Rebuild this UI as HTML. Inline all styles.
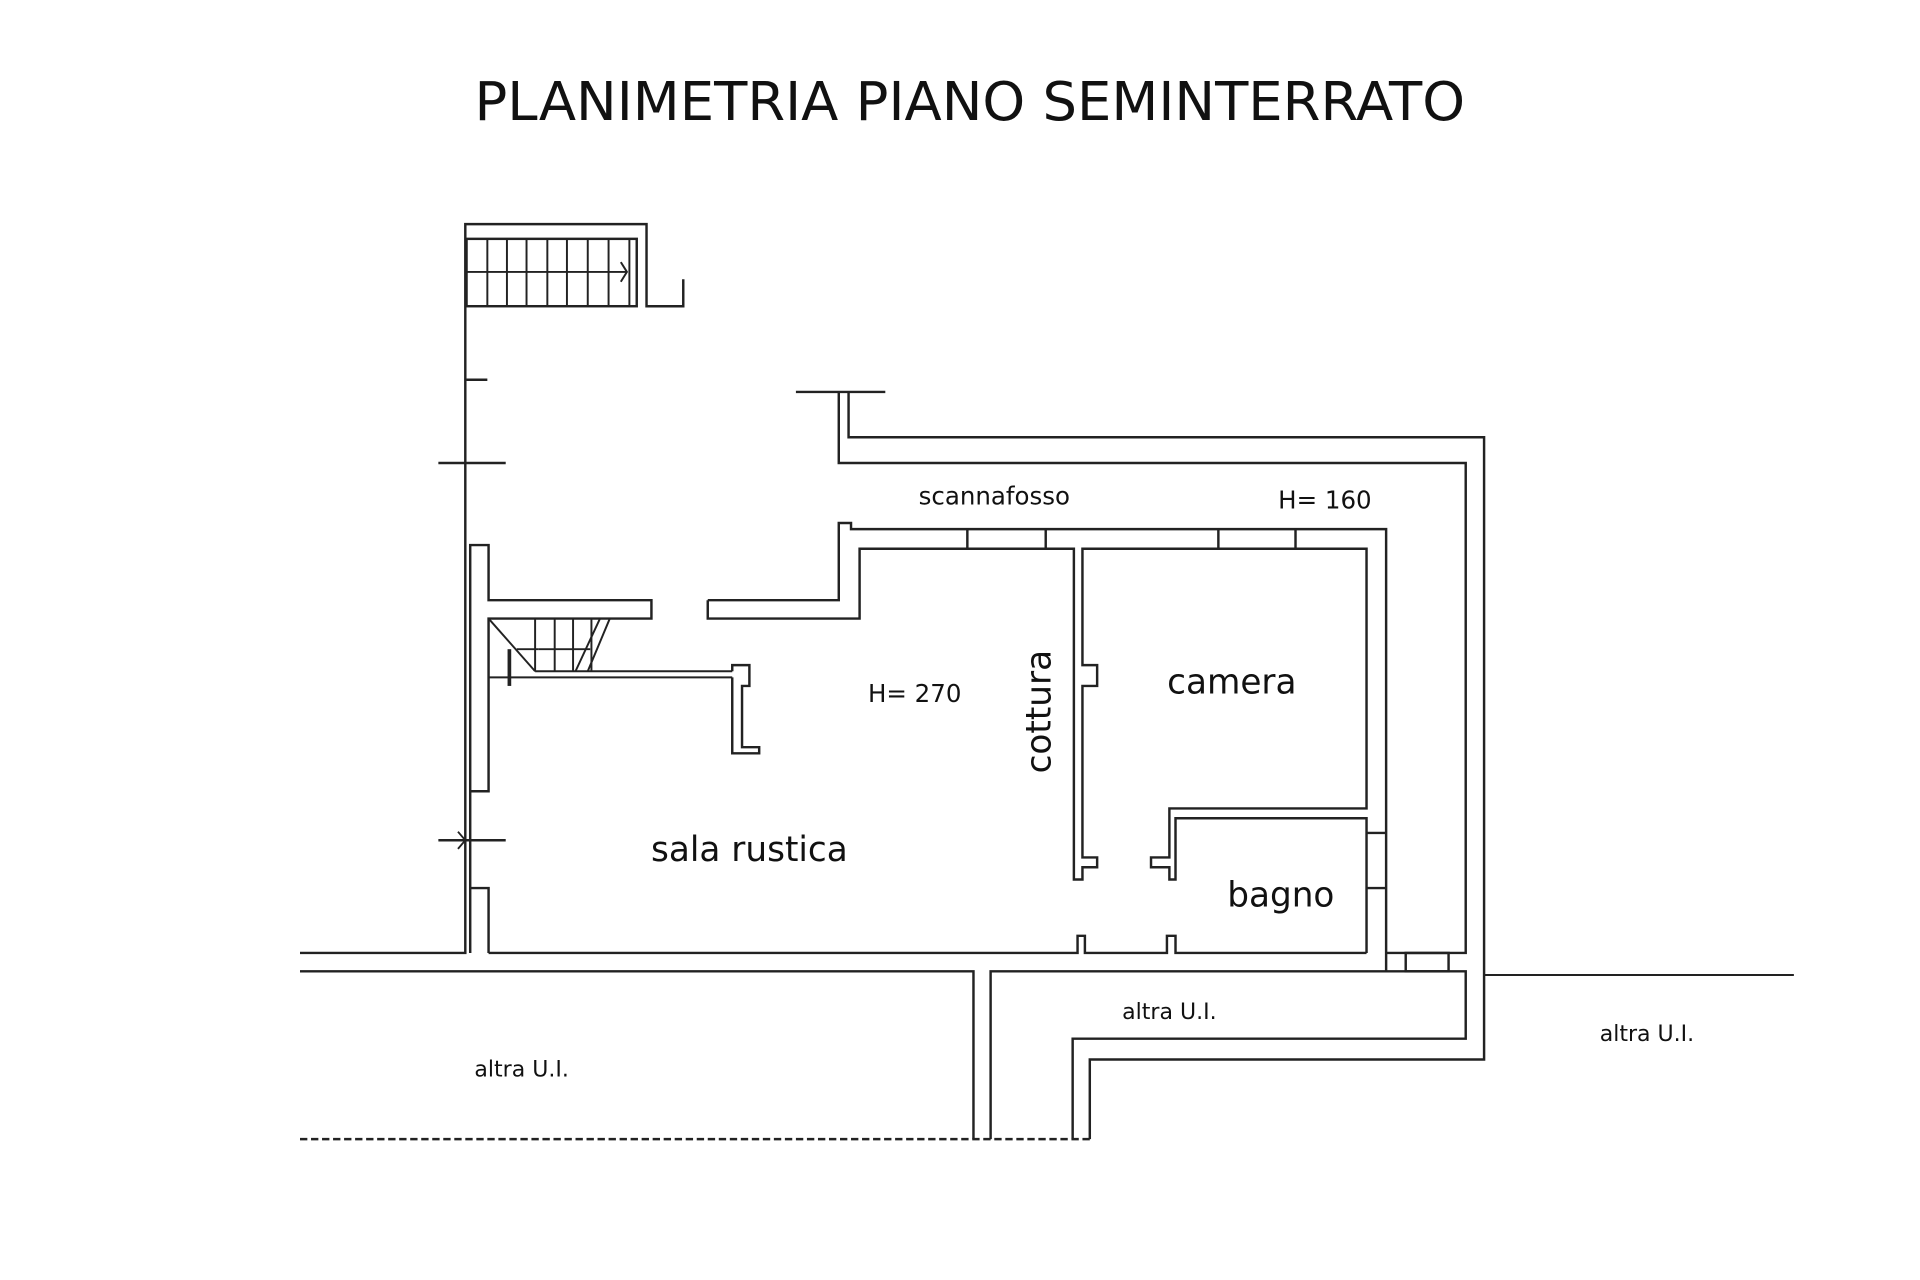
<!DOCTYPE html>
<html><head><meta charset="utf-8"><style>
html,body{margin:0;padding:0;background:#fff;}
svg{display:block}
text{font-family:"DejaVu Sans","Liberation Sans",sans-serif;fill:#111}
</style></head><body>
<svg width="1920" height="1280" viewBox="0 0 1568 1045" preserveAspectRatio="none" xmlns="http://www.w3.org/2000/svg">
<g fill="none" stroke="#222" stroke-width="2">
<polyline points="380,778 380,183 528,183 528,250 558,250 558,228"/>
<rect x="381" y="195" width="139" height="55"/>
<g stroke-width="1.6">
<line x1="398" y1="195" x2="398" y2="250"/><line x1="414" y1="195" x2="414" y2="250"/>
<line x1="430" y1="195" x2="430" y2="250"/><line x1="447" y1="195" x2="447" y2="250"/>
<line x1="463" y1="195" x2="463" y2="250"/><line x1="480" y1="195" x2="480" y2="250"/>
<line x1="497" y1="195" x2="497" y2="250"/><line x1="514" y1="195" x2="514" y2="250"/>
<line x1="381" y1="222" x2="512" y2="222"/>
<polyline points="507,214 512,222 507,230"/>
</g>
<line x1="381" y1="310" x2="398" y2="310"/>
<line x1="358" y1="378" x2="413" y2="378"/>
<line x1="358" y1="686" x2="413" y2="686"/>
<polyline points="374,679 380,686 374,693" stroke-width="1.5"/>
<polyline points="384,778 384,445 399,445 399,490 532,490 532,505 399,505 399,646 384,646"/>
<polyline points="384,725 399,725 399,778"/>
<g stroke-width="1.6">
<line x1="399" y1="553" x2="598" y2="553"/>
<line x1="437" y1="548" x2="598" y2="548"/>
<line x1="399" y1="505" x2="437" y2="548"/>
<line x1="422" y1="530" x2="440" y2="530"/>
<line x1="437" y1="505" x2="437" y2="548"/><line x1="453" y1="505" x2="453" y2="548"/>
<line x1="468" y1="505" x2="468" y2="548"/><line x1="483" y1="505" x2="483" y2="548"/>
<line x1="440" y1="530" x2="482" y2="530"/>
<line x1="498" y1="505" x2="480" y2="548"/><line x1="490" y1="505" x2="470" y2="548"/>
<line x1="416" y1="530" x2="416" y2="560" stroke-width="3"/>
</g>
<polyline points="598,553 598,615 620,615 620,610 606,610 606,560 612,560 612,543 598,543 598,548"/>
<polyline points="578,490 685,490 685,427 695,427 695,432 1132,432 1132,778"/>
<polyline points="578,490 578,505 702,505 702,448 877,448 877,718 884,718 884,708 896,708 896,700 884,700 884,560 896,560 896,543 884,543 884,448 1116,448 1116,660 955,660 955,700 940,700 940,708 955,708 955,718 960,718 960,668 1116,668 1116,778"/>
<line x1="790" y1="432" x2="790" y2="448"/><line x1="854" y1="432" x2="854" y2="448"/>
<line x1="995" y1="432" x2="995" y2="448"/><line x1="1058" y1="432" x2="1058" y2="448"/>
<line x1="1116" y1="680" x2="1132" y2="680"/><line x1="1116" y1="725" x2="1132" y2="725"/>
<polyline points="399,778 880,778 880,764 886,764 886,778 953,778 953,764 960,764 960,778 1116,778"/>
<line x1="245" y1="778" x2="381" y2="778"/>
<line x1="650" y1="320" x2="723" y2="320"/>
<polyline points="685,320 685,378 693,378 1197,378 1197,778 1132,778"/>
<polyline points="693,320 693,357 1212,357 1212,865 890,865 890,930"/>
<polyline points="245,793 795,793 795,930"/>
<polyline points="809,930 809,793 1197,793 1197,848 876,848 876,930"/>
<line x1="1132" y1="778" x2="1132" y2="793"/>
<rect x="1148" y="778" width="35" height="15"/>
<line x1="1212" y1="796" x2="1465" y2="796" stroke-width="1.6"/>
<line x1="245" y1="930" x2="890" y2="930" stroke-dasharray="6,3"/>
</g>
<text x="792" y="98" font-size="44" text-anchor="middle" textLength="809" lengthAdjust="spacingAndGlyphs">PLANIMETRIA PIANO SEMINTERRATO</text>
<g font-family="Liberation Sans,sans-serif" fill="#333">
<text x="812" y="412" font-size="20" text-anchor="middle">scannafosso</text>
<text x="1082" y="415" font-size="20" text-anchor="middle">H= 160</text>
<text x="747" y="573" font-size="20" text-anchor="middle">H= 270</text>
<text x="426" y="879" font-size="18" text-anchor="middle">altra U.I.</text>
<text x="955" y="832" font-size="18" text-anchor="middle">altra U.I.</text>
<text x="1345" y="850" font-size="18" text-anchor="middle">altra U.I.</text>
</g>
<text x="1006" y="566" font-size="28" text-anchor="middle">camera</text>
<text x="612" y="703" font-size="28" text-anchor="middle">sala rustica</text>
<text x="1046" y="740" font-size="28" text-anchor="middle">bagno</text>
<text x="0" y="0" font-size="28" text-anchor="middle" transform="translate(858,581) rotate(-90)">cottura</text>
</svg>
</body></html>
